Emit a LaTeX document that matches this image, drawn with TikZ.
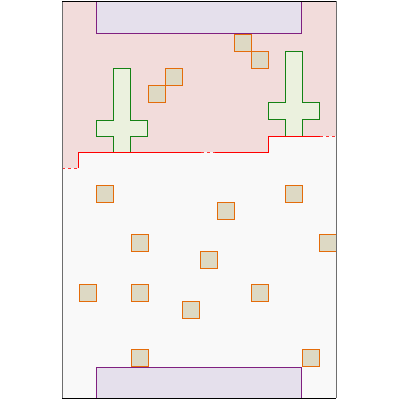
\documentclass[tikz,border=0pt]{standalone}
\definecolor{pinkbg}{RGB}{242,220,219}
\definecolor{graybg}{RGB}{249,249,249}
\definecolor{purfill}{RGB}{229,224,236}
\definecolor{purline}{RGB}{128,32,128}
\definecolor{grfill}{RGB}{235,241,222}
\definecolor{grline}{RGB}{20,130,20}
\definecolor{sqfill}{RGB}{221,217,196}
\definecolor{sqline}{RGB}{228,108,10}
\definecolor{redline}{RGB}{255,0,0}
\definecolor{wallgray}{RGB}{110,110,110}
\tikzset{
  sq/.style={draw=sqline, fill=sqfill, line width=1pt},
  crossshape/.style={draw=grline, fill=grfill, line width=1pt},
  stage/.style={draw=purline, fill=purfill, line width=1pt},
  bound/.style={draw=redline, line width=1pt},
  door/.style={draw=redline!80, line width=1pt, dash pattern=on 3pt off 3pt},
}
\begin{document}
\begin{tikzpicture}[x=1pt,y=-1pt]
\useasboundingbox (0,0) rectangle (400,400);
% backgrounds
\fill[graybg] (62,1) rectangle (336,398);
\fill[pinkbg] (62,1) -- (336,1) -- (336,136) -- (268,136) -- (268,152) -- (78,152) -- (78,168) -- (62,168) -- cycle;
% stages
\draw[stage] (96,1) rectangle (301,33);
\draw[stage] (96,367) rectangle (301,398);
% crosses
\draw[crossshape] (113,68) -- (130,68) -- (130,120) -- (147,120) -- (147,136) -- (130,136) -- (130,152) -- (113,152) -- (113,136) -- (96,136) -- (96,120) -- (113,120) -- cycle;
\draw[crossshape] (285,51) -- (302,51) -- (302,102) -- (319,102) -- (319,119) -- (302,119) -- (302,136) -- (285,136) -- (285,119) -- (268,119) -- (268,102) -- (285,102) -- cycle;
% squares (top)
\draw[sq] (234,34) rectangle +(17,17);
\draw[sq] (251,51) rectangle +(17,17);
\draw[sq] (165,68) rectangle +(17,17);
\draw[sq] (148,85) rectangle +(17,17);
% squares (bottom)
\draw[sq] (96,185) rectangle +(17,17);
\draw[sq] (285,185) rectangle +(17,17);
\draw[sq] (217,202) rectangle +(17,17);
\draw[sq] (131,234) rectangle +(17,17);
\draw[sq] (319,234) rectangle +(17,17);
\draw[sq] (200,251) rectangle +(17,17);
\draw[sq] (79,284) rectangle +(17,17);
\draw[sq] (131,284) rectangle +(17,17);
\draw[sq] (251,284) rectangle +(17,17);
\draw[sq] (182,301) rectangle +(17,17);
\draw[sq] (131,349) rectangle +(17,17);
\draw[sq] (302,349) rectangle +(17,17);
% boundary
\draw[door] (62,168) -- (78,168);
\draw[bound] (78,168) -- (78,152) -- (201,152);
\draw[door] (201,152) -- (215,152);
\draw[bound] (215,152) -- (268,152) -- (268,136) -- (320,136);
\draw[door] (320,136) -- (336,136);
% frame
\draw[wallgray, line width=1pt] (62,1) -- (62,398);
\draw[wallgray, line width=1pt] (336,1) -- (336,398);
\draw[black, line width=1pt] (62,1) -- (336,1);
\draw[black, line width=1pt] (62,398) -- (336,398);
\end{tikzpicture}
\end{document}
